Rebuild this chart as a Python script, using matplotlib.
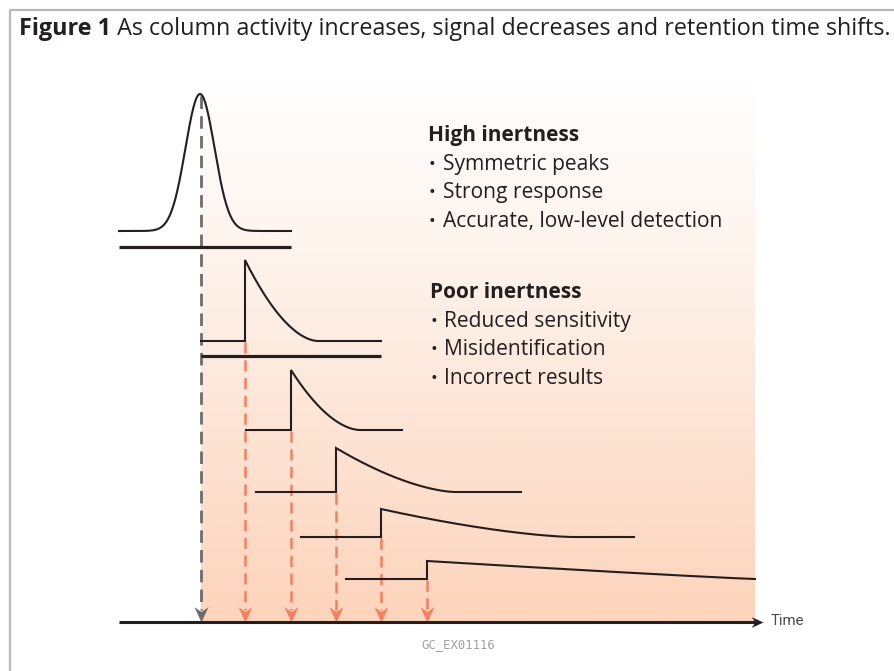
import numpy as np
import matplotlib
matplotlib.use("Agg")
import matplotlib.pyplot as plt
from matplotlib.path import Path
from matplotlib.colors import LinearSegmentedColormap

# ---- schematic data (horizontal = time, vertical = signal level; drawing units) ----
retention_times = [200, 245, 291, 336, 381, 427]     # peak / step position of each trace
baselines       = [231, 341, 430, 492, 537, 579]     # baseline level of each trace
peak_levels     = [94, 260, 370, 448, 509, 561]      # top of each peak
trace_starts    = [119, 201, 246, 256, 301, 346]
trace_ends      = [291, 381, 402, 521, 634, 755]
decay_ends      = [None, 318, 360, 455, 573, 755]    # where tailing peak returns to baseline
decay_power     = [None, 1.8, 1.8, 1.6, 1.5, 1.1]
gauss_sigma     = 14.5
underlines      = [(231 + 16, 119, 291), (341 + 15, 201, 381)]
axis_level      = 622
axis_start, axis_end = 119, 763

title_bold = "Figure 1"
title_rest = " As column activity increases, signal decreases and retention time shifts."
high_head = "High inertness"
high_items = ["Symmetric peaks", "Strong response", "Accurate, low-level detection"]
poor_head = "Poor inertness"
poor_items = ["Reduced sensitivity", "Misidentification", "Incorrect results"]
axis_label = "Time"
code_label = "GC_EX01116"

W, H = 894, 671
fig = plt.figure(figsize=(W / 100, H / 100), dpi=100)
ax = fig.add_axes([0, 0, 1, 1])
ax.set_xlim(0, W)
ax.set_ylim(H, 0)
ax.axis("off")

FONT = ["Open Sans", "DejaVu Sans"]
INK = "#231f20"
ORANGE = "#f4805f"
GREY = "#6d6d6d"

# frame
ax.plot([9.5, 9.5, W + 5], [H + 5, 9.5, 9.5], color="#b9b9b9", lw=1.6,
        solid_capstyle="butt", zorder=1)

# gradient background
cmap = LinearSegmentedColormap.from_list("g", ["#ffffff", "#fef3ec", "#fde3d3", "#fdd4bb"])
grad = np.linspace(0, 1, 256).reshape(-1, 1)
ax.imshow(grad, extent=[201, 755, axis_level, 80], cmap=cmap, aspect="auto",
          origin="upper", zorder=0, interpolation="bicubic")
ax.set_xlim(0, W)
ax.set_ylim(H, 0)

# traces
for i, (rt, bl, pk, xs, xe) in enumerate(zip(retention_times, baselines, peak_levels,
                                            trace_starts, trace_ends)):
    if i == 0:
        x = np.linspace(xs, xe, 600)
        y = bl - (bl - pk) * np.exp(-0.5 * ((x - rt) / gauss_sigma) ** 2)
    else:
        de = decay_ends[i]
        p = decay_power[i]
        xd = np.linspace(rt, de, 300)
        t = (xd - rt) / (de - rt)
        yd = bl - (bl - pk) * (1 - t) ** p
        x = np.concatenate([[xs, rt], xd, [xe]])
        y = np.concatenate([[bl, bl], yd, [bl]])
    ax.plot(x, y, color=INK, lw=1.5, zorder=4, solid_joinstyle="miter")

for yl, x0, x1 in underlines:
    ax.plot([x0, x1], [yl, yl], color=INK, lw=2.3, zorder=4, solid_capstyle="butt")

# arrow head marker (stealth shape, tip at origin pointing down in display)
head = Path([(0, 0), (-0.5, 1.1), (0, 0.75), (0.5, 1.1), (0, 0)],
            [Path.MOVETO, Path.LINETO, Path.LINETO, Path.LINETO, Path.CLOSEPOLY])

# dashed drop lines
for i, rt in enumerate(retention_times):
    col = GREY if i == 0 else ORANGE
    x = 201 if i == 0 else rt
    top = peak_levels[0] + 2 if i == 0 else baselines[i] + 1
    ax.plot([x, x], [top, axis_level - 12], color=col, lw=2.0 if i == 0 else 1.8,
            dashes=(4.5, 2.6), zorder=3)
    ax.plot([x], [axis_level - 0.5], marker=head, markersize=22, color=col,
            markeredgewidth=0, zorder=5, clip_on=False)

# time axis
ax.plot([axis_start, axis_end - 6], [axis_level, axis_level], color=INK, lw=2.2,
        zorder=5, solid_capstyle="butt")
rhead = Path([(0, 0), (-1.1, 0.5), (-0.75, 0), (-1.1, -0.5), (0, 0)],
             [Path.MOVETO, Path.LINETO, Path.LINETO, Path.LINETO, Path.CLOSEPOLY])
ax.plot([axis_end], [axis_level], marker=rhead, markersize=17, color=INK,
        markeredgewidth=0, zorder=6, clip_on=False)
ax.text(771, axis_level - 1, axis_label, fontsize=10.8, color="#4a4a4a",
        family=["Roboto", "DejaVu Sans"], va="center", ha="left")

# code label
ax.text(458, 645, code_label, fontsize=8.8, color="#a0a0a0",
        family=["DejaVu Sans Mono"], va="center", ha="center")

# text block
def block(head_txt, items, x_head, x_bullet, x_text, y0, step=28.7):
    ax.text(x_head, y0, head_txt, fontsize=15, fontweight="bold", color=INK,
            family=FONT, va="baseline", ha="left")
    for k, it in enumerate(items):
        yb = y0 + step * (k + 1)
        ax.text(x_bullet, yb, "\u2022", fontsize=13, color=INK, family=FONT,
                va="baseline", ha="center")
        ax.text(x_text, yb, it, fontsize=15.1, color=INK, family=FONT,
                va="baseline", ha="left")

block(high_head, high_items, 428, 432, 443, 141)
block(poor_head, poor_items, 430, 434, 444, 298)

# title: bold part then regular part
fig.canvas.draw()
r = fig.canvas.get_renderer()
t1 = ax.text(19, 35, title_bold, fontsize=16.8, fontweight="bold", color=INK,
             family=FONT, va="baseline", ha="left")
bb = t1.get_window_extent(renderer=r)
x2 = ax.transData.inverted().transform((bb.x1, 0))[0]
ax.text(x2, 35, title_rest, fontsize=16.8, color=INK, family=FONT,
        va="baseline", ha="left")

fig.savefig("out.png", dpi=100)
